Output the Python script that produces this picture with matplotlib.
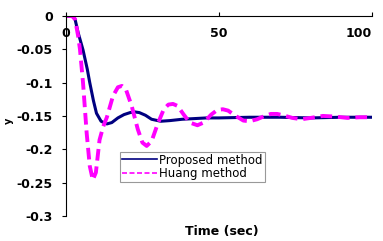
import matplotlib.pyplot as plt

# values
t_prop = [0, 2, 3, 4, 5.6, 7, 7.8, 9, 10, 11.5, 13.4, 15, 17, 19, 21, 22.5, 24, 26, 28, 31,
          34, 38, 42, 46, 50, 60, 70, 80, 90, 100]
y_prop = [0, 0, -0.005, -0.025, -0.051, -0.08, -0.1, -0.127, -0.146, -0.158, -0.162, -0.16,
          -0.153, -0.148, -0.145, -0.144, -0.145, -0.149, -0.155, -0.158, -0.157, -0.155,
          -0.154, -0.153, -0.153, -0.152, -0.152, -0.153, -0.152, -0.152]

t_huang = [0, 2, 3, 4, 4.6, 5.6, 6.8, 7.8, 8.8, 9.8, 11, 12.2, 13.4, 15.4, 17, 18.3, 19.6,
           21.5, 23.5, 25, 26.4, 28, 30, 32, 33.5, 35, 36.5, 38.5, 40.5, 43, 45, 47.5, 49.5,
           51.3, 53, 55.5, 58, 60, 62.5, 65, 67, 69, 71, 74, 77, 80, 84, 88, 92, 96, 100]
y_huang = [0, 0, -0.005, -0.03, -0.05, -0.1, -0.176, -0.225, -0.246, -0.235, -0.186, -0.166,
           -0.152, -0.12, -0.107, -0.105, -0.11, -0.135, -0.17, -0.19, -0.195, -0.188, -0.162,
           -0.14, -0.133, -0.132, -0.135, -0.148, -0.16, -0.164, -0.16, -0.148, -0.141, -0.14,
           -0.142, -0.15, -0.157, -0.158, -0.155, -0.15, -0.147, -0.147, -0.149, -0.153,
           -0.155, -0.153, -0.15, -0.151, -0.153, -0.152, -0.152]

x_ticks = [0, 50, 100]
y_ticks = [0, -0.05, -0.1, -0.15, -0.2, -0.25, -0.3]
y_tick_labels = ["0", "-0.05", "-0.1", "-0.15", "-0.2", "-0.25", "-0.3"]

plt.rcParams["font.family"] = ["DejaVu Sans"]

fig = plt.figure(figsize=(3.83, 2.41), dpi=100)
ax = fig.add_axes([0.172, 0.104, 0.799, 0.830])

ax.plot(t_prop, y_prop, color="#000080", lw=2.2, label="Proposed method")
ax.plot(t_huang, y_huang, color="#ff00ff", lw=2.8, dashes=(3, 1.5), label="Huang method")

ax.set_xlim(0, 100)
ax.set_ylim(-0.3, 0)
ax.set_xticks(x_ticks)
ax.set_yticks(y_ticks)
ax.set_yticklabels(y_tick_labels)

ax.spines["right"].set_visible(False)
ax.spines["bottom"].set_visible(False)
ax.xaxis.set_ticks_position("top")
ax.tick_params(axis="x", direction="out", length=3, labeltop=True, labelbottom=False, pad=-20)
ax.tick_params(axis="y", direction="out", length=3, pad=6.5)
for lab in ax.get_xticklabels() + ax.get_yticklabels():
    lab.set_fontsize(9)
    lab.set_fontweight("bold")
# last label sits right on the edge, keep it inside the figure
ax.get_xticklabels()[-1].set_horizontalalignment("right")
ax.get_xticklabels()[-1].set_x(101.5)

fig.text(0.58, 0.04, "Time (sec)", fontsize=9, fontweight="bold", ha="center", va="center")
fig.text(0.024, 0.50, "y", fontsize=7, fontweight="bold", rotation=90, ha="center", va="center")

leg = ax.legend(loc="lower left", bbox_to_anchor=(0.176, 0.17), fontsize=8.5,
                frameon=True, fancybox=False, borderpad=0.15, labelspacing=0.05,
                handlelength=3.0, handletextpad=0.2, borderaxespad=0)
leg.get_frame().set_edgecolor("#808080")
leg.get_frame().set_linewidth(0.8)
for h in leg.get_lines():
    h.set_linewidth(1.2)

fig.savefig("out.png", dpi=100)
